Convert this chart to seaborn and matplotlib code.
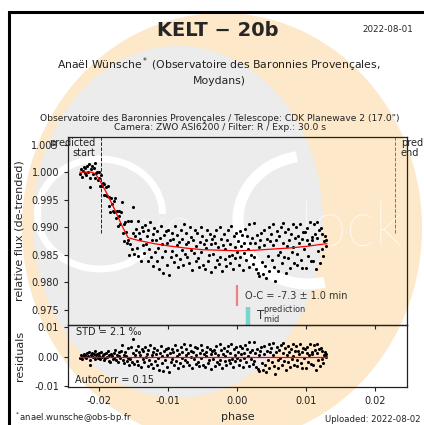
import numpy as np
import pandas as pd
import matplotlib
matplotlib.use("Agg")
import matplotlib.pyplot as plt
from matplotlib.patches import Ellipse, Arc, Rectangle
import seaborn as sns

# observations (orbital phase, detrended flux, residuals in ppt)
phase = [
    -0.02270, -0.02258, -0.02246, -0.02234, -0.02222, -0.02210, -0.02198, -0.02186, -0.02174, -0.02162,
    -0.02150, -0.02138, -0.02126, -0.02114, -0.02102, -0.02090, -0.02078, -0.02066, -0.02054, -0.02042,
    -0.02030, -0.02018, -0.02006, -0.01994, -0.01982, -0.01970, -0.01958, -0.01946, -0.01934, -0.01922,
    -0.01910, -0.01898, -0.01886, -0.01874, -0.01862, -0.01850, -0.01838, -0.01826, -0.01814, -0.01802,
    -0.01790, -0.01778, -0.01766, -0.01754, -0.01742, -0.01730, -0.01718, -0.01706, -0.01694, -0.01682,
    -0.01670, -0.01658, -0.01646, -0.01634, -0.01622, -0.01610, -0.01598, -0.01586, -0.01574, -0.01562,
    -0.01550, -0.01538, -0.01526, -0.01514, -0.01502, -0.01490, -0.01478, -0.01466, -0.01454, -0.01442,
    -0.01430, -0.01418, -0.01406, -0.01394, -0.01382, -0.01370, -0.01358, -0.01346, -0.01334, -0.01322,
    -0.01310, -0.01298, -0.01286, -0.01274, -0.01262, -0.01250, -0.01238, -0.01226, -0.01214, -0.01202,
    -0.01190, -0.01178, -0.01166, -0.01154, -0.01142, -0.01130, -0.01118, -0.01106, -0.01094, -0.01082,
    -0.01070, -0.01058, -0.01046, -0.01034, -0.01022, -0.01010, -0.00998, -0.00986, -0.00974, -0.00962,
    -0.00950, -0.00938, -0.00926, -0.00914, -0.00902, -0.00890, -0.00878, -0.00866, -0.00854, -0.00842,
    -0.00830, -0.00818, -0.00806, -0.00794, -0.00782, -0.00770, -0.00758, -0.00746, -0.00734, -0.00722,
    -0.00710, -0.00698, -0.00686, -0.00674, -0.00662, -0.00650, -0.00638, -0.00626, -0.00614, -0.00602,
    -0.00590, -0.00578, -0.00566, -0.00554, -0.00542, -0.00530, -0.00518, -0.00506, -0.00494, -0.00482,
    -0.00470, -0.00458, -0.00446, -0.00434, -0.00422, -0.00410, -0.00398, -0.00386, -0.00374, -0.00362,
    -0.00350, -0.00338, -0.00326, -0.00314, -0.00302, -0.00290, -0.00278, -0.00266, -0.00254, -0.00242,
    -0.00230, -0.00218, -0.00206, -0.00194, -0.00182, -0.00170, -0.00158, -0.00146, -0.00134, -0.00122,
    -0.00110, -0.00098, -0.00086, -0.00074, -0.00062, -0.00050, -0.00038, -0.00026, -0.00014, -0.00002,
    0.00010, 0.00022, 0.00034, 0.00046, 0.00058, 0.00070, 0.00082, 0.00094, 0.00106, 0.00118,
    0.00130, 0.00142, 0.00154, 0.00166, 0.00178, 0.00190, 0.00202, 0.00214, 0.00226, 0.00238,
    0.00250, 0.00262, 0.00274, 0.00286, 0.00298, 0.00310, 0.00322, 0.00334, 0.00346, 0.00358,
    0.00370, 0.00382, 0.00394, 0.00406, 0.00418, 0.00430, 0.00442, 0.00454, 0.00466, 0.00478,
    0.00490, 0.00502, 0.00514, 0.00526, 0.00538, 0.00550, 0.00562, 0.00574, 0.00586, 0.00598,
    0.00610, 0.00622, 0.00634, 0.00646, 0.00658, 0.00670, 0.00682, 0.00694, 0.00706, 0.00718,
    0.00730, 0.00742, 0.00754, 0.00766, 0.00778, 0.00790, 0.00802, 0.00814, 0.00826, 0.00838,
    0.00850, 0.00862, 0.00874, 0.00886, 0.00898, 0.00910, 0.00922, 0.00934, 0.00946, 0.00958,
    0.00970, 0.00982, 0.00994, 0.01006, 0.01018, 0.01030, 0.01042, 0.01054, 0.01066, 0.01078,
    0.01090, 0.01102, 0.01114, 0.01126, 0.01138, 0.01150, 0.01162, 0.01174, 0.01186, 0.01198,
    0.01210, 0.01222, 0.01234, 0.01246, 0.01258, 0.01270, 0.01282, 0.01294,
]
flux = [
    0.9996, 1.0006, 0.9992, 1.0003, 1.0010, 0.9998, 1.0007, 0.9994, 1.0012, 1.0001,
    1.0015, 0.9989, 0.9973, 1.0005, 1.0012, 0.9996, 1.0008, 1.0017, 0.9990, 0.9999,
    1.0000, 0.9985, 1.0000, 0.9989, 0.9974, 0.9994, 0.9975, 0.9980, 0.9959, 0.9978,
    0.9959, 0.9973, 0.9956, 0.9974, 0.9939, 0.9955, 0.9927, 0.9953, 0.9943, 0.9930,
    0.9948, 0.9928, 0.9953, 0.9916, 0.9930, 0.9903, 0.9920, 0.9929, 0.9905, 0.9928,
    0.9945, 0.9890, 0.9905, 0.9874, 0.9910, 0.9892, 0.9872, 0.9912, 0.9877, 0.9850,
    0.9870, 0.9911, 0.9860, 0.9937, 0.9889, 0.9852, 0.9883, 0.9897, 0.9862, 0.9911,
    0.9847, 0.9890, 0.9879, 0.9838, 0.9900, 0.9867, 0.9893, 0.9853, 0.9904, 0.9870,
    0.9883, 0.9839, 0.9894, 0.9860, 0.9909, 0.9846, 0.9876, 0.9830, 0.9887, 0.9898,
    0.9854, 0.9877, 0.9839, 0.9893, 0.9862, 0.9823, 0.9881, 0.9903, 0.9845, 0.9869,
    0.9817, 0.9885, 0.9856, 0.9893, 0.9831, 0.9872, 0.9895, 0.9813, 0.9877, 0.9846,
    0.9889, 0.9856, 0.9878, 0.9836, 0.9903, 0.9850, 0.9867, 0.9886, 0.9827, 0.9873,
    0.9842, 0.9895, 0.9858, 0.9879, 0.9832, 0.9905, 0.9851, 0.9870, 0.9889, 0.9846,
    0.9873, 0.9835, 0.9900, 0.9859, 0.9882, 0.9822, 0.9877, 0.9853, 0.9895, 0.9838,
    0.9865, 0.9890, 0.9843, 0.9828, 0.9873, 0.9901, 0.9855, 0.9884, 0.9832, 0.9869,
    0.9824, 0.9877, 0.9862, 0.9894, 0.9838, 0.9849, 0.9887, 0.9818, 0.9870, 0.9879,
    0.9852, 0.9883, 0.9828, 0.9872, 0.9895, 0.9840, 0.9864, 0.9833, 0.9900, 0.9846,
    0.9879, 0.9820, 0.9867, 0.9888, 0.9842, 0.9860, 0.9829, 0.9876, 0.9895, 0.9848,
    0.9835, 0.9869, 0.9902, 0.9850, 0.9824, 0.9883, 0.9864, 0.9843, 0.9889, 0.9854,
    0.9874, 0.9831, 0.9893, 0.9846, 0.9866, 0.9886, 0.9822, 0.9871, 0.9853, 0.9897,
    0.9840, 0.9884, 0.9861, 0.9827, 0.9906, 0.9872, 0.9849, 0.9880, 0.9833, 0.9908,
    0.9845, 0.9871, 0.9824, 0.9886, 0.9817, 0.9863, 0.9811, 0.9877, 0.9890, 0.9837,
    0.9814, 0.9868, 0.9895, 0.9829, 0.9807, 0.9879, 0.9847, 0.9900, 0.9821, 0.9874,
    0.9888, 0.9840, 0.9867, 0.9905, 0.9827, 0.9802, 0.9876, 0.9893, 0.9850, 0.9820,
    0.9883, 0.9855, 0.9900, 0.9834, 0.9872, 0.9907, 0.9846, 0.9891, 0.9816, 0.9866,
    0.9843, 0.9897, 0.9876, 0.9826, 0.9887, 0.9854, 0.9905, 0.9864, 0.9834, 0.9880,
    0.9900, 0.9851, 0.9832, 0.9883, 0.9871, 0.9905, 0.9841, 0.9878, 0.9825, 0.9892,
    0.9860, 0.9891, 0.9825, 0.9876, 0.9898, 0.9847, 0.9869, 0.9909, 0.9839, 0.9882,
    0.9876, 0.9838, 0.9905, 0.9888, 0.9823, 0.9880, 0.9909, 0.9856, 0.9894, 0.9834,
    0.9899, 0.9861, 0.9888, 0.9847, 0.9875, 0.9883, 0.9866, 0.9877,
]
resid_ppt = [
    -0.4, 0.6, -0.8, 0.3, 1.0, -0.2, 0.7, -0.6, 1.2, 0.1,
    1.5, -1.1, -2.7, 0.5, 1.2, -0.3, 0.9, 1.9, -0.7, 0.4,
    0.8, -0.5, 1.2, 0.3, -0.9, 1.4, -0.2, 0.6, -1.2, 1.0,
    -0.6, 1.1, -0.3, 1.8, -1.4, 0.5, -2.0, 0.9, 0.2, -0.8,
    1.3, -0.4, 2.4, -1.0, 0.7, -1.7, 0.3, 1.5, -0.6, 2.0,
    4.0, -1.2, 0.6, -2.2, 1.7, 0.2, -1.5, 2.8, -0.5, -3.0,
    -0.9, 3.3, -1.8, 6.0, 1.2, -2.5, 0.7, 2.1, -1.4, 3.6,
    -2.8, 1.5, 0.4, -3.6, 2.6, -0.7, 1.9, -2.0, 3.1, -0.3,
    1.0, -3.3, 2.2, -1.2, 3.8, -2.5, 0.5, -4.0, 1.7, 2.8,
    -1.6, 0.8, -3.0, 2.4, -0.6, -4.5, 1.3, 3.5, -2.2, 0.2,
    -5.0, 1.8, -1.0, 2.7, -3.5, 0.6, 3.0, -5.2, 1.2, -1.9,
    2.5, -0.8, 1.4, -2.8, 3.9, -1.4, 0.3, 2.2, -3.7, 0.9,
    -2.1, 3.2, -0.5, 1.6, -3.1, 4.2, -1.2, 0.7, 2.6, -1.7,
    1.1, -2.7, 3.8, -0.3, 2.0, -4.0, 1.5, -0.9, 3.3, -2.4,
    0.4, 2.9, -1.8, -3.3, 1.2, 4.0, -0.6, 2.3, -2.9, 0.8,
    -3.6, 1.7, 0.2, 3.4, -2.2, -1.1, 2.7, -4.2, 1.0, 1.9,
    -0.7, 2.4, -3.1, 1.3, 3.6, -1.9, 0.5, -2.6, 4.1, -1.3,
    2.1, -3.8, 0.9, 3.0, -1.6, 0.2, -2.9, 1.8, 3.7, -1.0,
    -2.3, 1.1, 4.4, -0.8, -3.4, 2.5, 0.6, -1.5, 3.1, -0.4,
    1.6, -2.7, 3.5, -1.2, 0.8, 2.8, -3.6, 1.3, -0.5, 3.9,
    -1.8, 2.6, 0.3, -3.1, 4.8, 1.4, -0.9, 2.2, -2.5, 5.0,
    -1.4, 1.2, -3.5, 2.7, -4.2, 0.4, -4.8, 1.8, 3.1, -2.2,
    -4.5, 0.9, 3.6, -3.0, -5.2, 2.0, -1.2, 4.1, -3.8, 1.5,
    2.8, -2.0, 0.7, 4.5, -3.3, -5.8, 1.6, 3.3, -1.0, -4.0,
    2.2, -0.6, 3.9, -2.7, 1.1, 4.6, -1.5, 3.0, -4.5, 0.5,
    -1.9, 3.5, 1.4, -3.6, 2.5, -0.8, 4.3, 0.2, -2.8, 1.8,
    3.7, -1.2, -3.1, 2.0, 0.8, 4.2, -2.2, 1.5, -3.8, 2.9,
    -0.5, 2.6, -4.0, 1.1, 3.3, -1.8, 0.4, 4.4, -2.6, 1.7,
    0.9, -2.9, 3.8, 2.1, -4.4, 1.3, 4.2, -1.1, 2.7, -3.3,
    3.0, -0.8, 1.9, -2.2, 0.6, 1.4, -0.3, 0.8,
]

# fitted transit model as drawn
model_phase = [-0.0228, -0.0210, -0.0205, -0.0202, -0.0199, -0.0189, -0.0177, -0.0167,
               -0.0158, -0.0150, -0.0140, -0.0120, -0.0100, -0.0075, -0.0050, -0.0025,
               0.0, 0.0025, 0.0050, 0.0075, 0.0100, 0.0130]
model_flux = [1.0000, 1.0000, 0.9996, 0.9991, 0.9985, 0.9962, 0.9931, 0.9903,
              0.9881, 0.9878, 0.9875, 0.9870, 0.9866, 0.9862, 0.9859, 0.9858,
              0.9857, 0.9858, 0.9860, 0.9862, 0.9865, 0.9870]
resid_line_phase = [-0.0228, 0.0130]
resid_line_value = [0.0, 0.0]

pred_start, pred_end = -0.0197, 0.0228
t_mid_obs, t_mid_pred = 0.0, 0.0016

df = pd.DataFrame({"phase": phase, "flux": flux,
                   "resid": np.array(resid_ppt) / 1000.0})

sns.set_style("ticks")
plt.rcParams["font.family"] = ["DejaVu Sans"]
plt.rcParams["xtick.labelsize"] = 7
plt.rcParams["ytick.labelsize"] = 7
plt.rcParams["xtick.major.size"] = 3
plt.rcParams["ytick.major.size"] = 3
plt.rcParams["xtick.major.width"] = 0.8
plt.rcParams["ytick.major.width"] = 0.8
plt.rcParams["xtick.color"] = "#222222"
plt.rcParams["ytick.color"] = "#222222"

W, H = 424, 425
fig = plt.figure(figsize=(W / 100, H / 100), dpi=100)
fig.patch.set_facecolor("white")


def fx(px):
    return px / W


def fy(py):
    return 1 - py / H


# watermark logo behind everything
fig.add_artist(Ellipse((fx(222), fy(228)), 400 / W, 430 / H, transform=fig.transFigure,
                       facecolor="#fde8c9", edgecolor="none", zorder=-10))
fig.add_artist(Ellipse((fx(178), fy(222)), 290 / W, 352 / H, transform=fig.transFigure,
                       facecolor="#ececec", edgecolor="none", zorder=-9))
fig.add_artist(Arc((fx(100), fy(214)), 125 / W, 110 / H, theta1=0, theta2=320,
                   transform=fig.transFigure, color="white", lw=5, zorder=-8))
fig.add_artist(Arc((fx(308), fy(220)), 140 / W, 128 / H, theta1=100, theta2=285,
                   transform=fig.transFigure, color="white", lw=8, zorder=-8))
fig.text(fx(140), fy(246), "xo", fontsize=40, family=["Lato", "DejaVu Sans"], fontweight="light",
         color="white", ha="left", va="baseline", zorder=-8)
fig.text(fx(300), fy(246), "lock", fontsize=44, family=["Lato", "DejaVu Sans"], fontweight="light",
         color="white", ha="left", va="baseline", zorder=-8)
fig.add_artist(Rectangle((fx(9), -0.1), 1.2, fy(12) + 0.1, transform=fig.transFigure,
                         fill=False, edgecolor="black", lw=2.2, zorder=5))

ax = fig.add_axes([fx(68), fy(325), fx(407) - fx(68), fy(137) - fy(325)])
axr = fig.add_axes([fx(68), fy(387), fx(407) - fx(68), fy(325) - fy(387)], sharex=ax)
for a in (ax, axr):
    a.set_facecolor("none")
    for s in a.spines.values():
        s.set_color("#222222")
        s.set_linewidth(0.9)

sns.scatterplot(data=df, x="phase", y="flux", color="black", s=5, linewidth=0, ax=ax, zorder=3)
sns.lineplot(x=model_phase, y=model_flux, color="red", lw=0.9, ax=ax, zorder=4)
ax.set_xlim(-0.0245, 0.0246)
ax.set_ylim(0.9722, 1.0064)
ax.set_yticks([0.975, 0.980, 0.985, 0.990, 0.995, 1.000, 1.005])
ax.yaxis.set_major_formatter(matplotlib.ticker.FormatStrFormatter("%.3f"))
ax.tick_params(axis="x", labelbottom=False)
ax.set_xlabel("")
ax.set_ylabel("relative flux (de-trended)", fontsize=8)
ax.yaxis.set_label_coords((25 - 68) / 339, 0.5)

# predicted start / end of transit
ax.vlines(pred_start, 0.989, 1.0064, colors="#222222", linestyles="--", lw=0.7)
ax.vlines(pred_end, 0.989, 1.0064, colors="#777777", linestyles="--", lw=0.7)
ax.text(pred_start - 0.0009, 1.0062, "predicted\nstart", ha="right", va="top",
        fontsize=7, color="#222222", linespacing=1.0)
ax.text(pred_end + 0.0009, 1.0062, "predicted\nend", ha="left", va="top",
        fontsize=7, color="#222222", linespacing=1.0, clip_on=False)

# O-C and predicted mid-time markers
ax.vlines(t_mid_obs, 0.9757, 0.9795, colors="#f08080", lw=1.6)
ax.text(0.0012, 0.9775, "O-C = -7.3 ± 1.0 min", fontsize=7, color="#333333", va="center")
ax.vlines(t_mid_pred, 0.9722, 0.9754, colors="#79d3cf", lw=3.2)
ax.text(0.0028, 0.9741, r"$\mathrm{T}_{\mathrm{mid}}^{\mathrm{prediction}}$", fontsize=8.5,
        color="#333333", va="center")

sns.scatterplot(data=df, x="phase", y="resid", color="black", s=5, linewidth=0, ax=axr, zorder=3)
sns.lineplot(x=resid_line_phase, y=resid_line_value, color="red", lw=0.9, ax=axr, zorder=4)
axr.set_ylim(-0.0103, 0.0107)
axr.set_yticks([-0.01, 0.0, 0.01])
axr.yaxis.set_major_formatter(matplotlib.ticker.FormatStrFormatter("%.2f"))
axr.set_xticks([-0.02, -0.01, 0.0, 0.01, 0.02])
axr.xaxis.set_major_formatter(matplotlib.ticker.FormatStrFormatter("%.2f"))
axr.set_xlim(-0.0245, 0.0246)
axr.set_xlabel("phase", fontsize=8)
axr.xaxis.set_label_coords(0.5, (387 - 412) / 62)
axr.set_ylabel("residuals", fontsize=8)
axr.yaxis.set_label_coords((25 - 68) / 339, 0.5)
axr.text(0.025, 0.97, "STD = 2.1 ‰", transform=axr.transAxes, fontsize=7,
         va="top", color="#222222")
axr.text(0.02, 0.04, "AutoCorr = 0.15", transform=axr.transAxes, fontsize=7,
         va="bottom", color="#222222")

# header and footer texts
fig.text(fx(218), fy(31), "KELT − 20b", ha="center", va="center", fontsize=14, fontweight="bold")
fig.text(fx(413), fy(30), "2022-08-01", ha="right", va="center", fontsize=6.3)
fig.text(fx(219), fy(71), "Anaël Wünsche$^*$ (Observatoire des Baronnies Provençales,\nMoydans)",
         ha="center", va="center", fontsize=7.8, color="#222222", linespacing=1.3)
fig.text(fx(220), fy(123), "Observatoire des Baronnies Provençales / Telescope: CDK Planewave 2 (17.0\")\n"
         "Camera: ZWO ASI6200 / Filter: R / Exp.: 30.0 s",
         ha="center", va="center", fontsize=6.6, color="#222222", linespacing=1.0)
fig.text(fx(14), fy(418), "$^*$anael.wunsche@obs-bp.fr", ha="left", va="center", fontsize=6.1,
         color="#222222")
fig.text(fx(421), fy(420), "Uploaded: 2022-08-02", ha="right", va="center", fontsize=6.1,
         color="#222222")

fig.savefig("out.png", dpi=100)
